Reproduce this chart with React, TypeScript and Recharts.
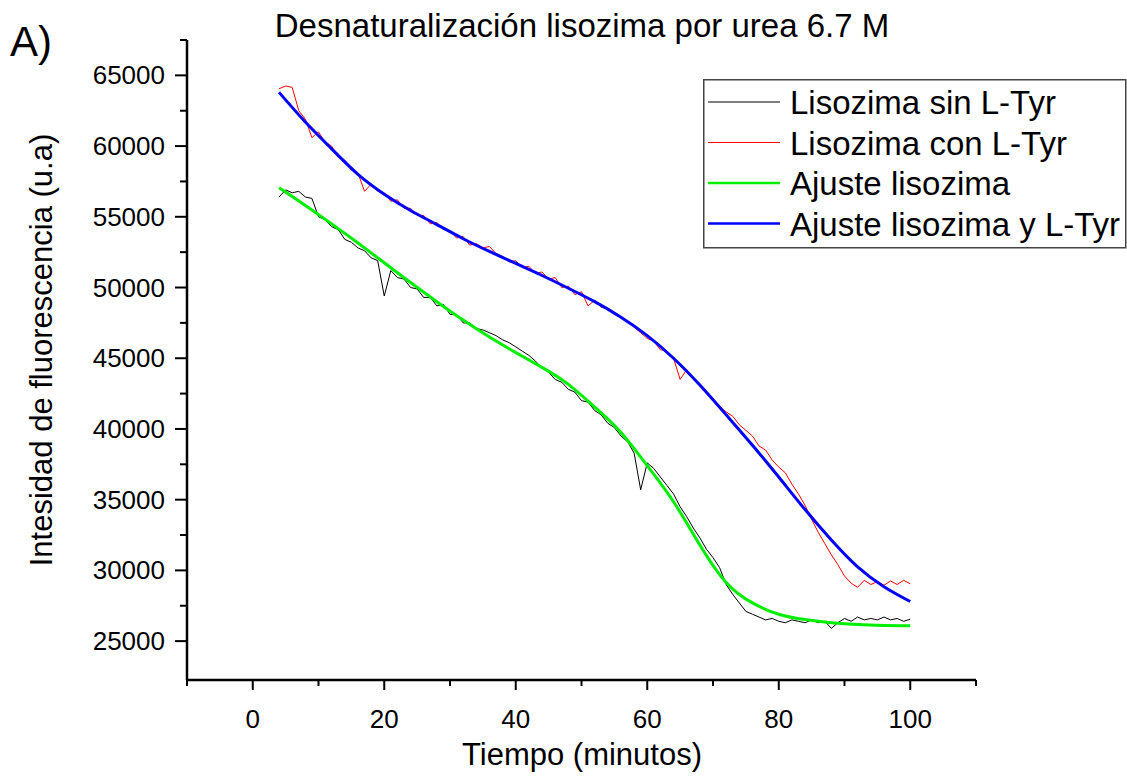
import React from "react";
import { LineChart, Line, XAxis, YAxis, Legend } from "recharts";

const FONT = '"Liberation Sans", Arial, sans-serif';

// tiempo de medida (minutos)
const tiempo = [
  4, 5, 6, 7, 8, 9, 10, 11, 12, 13,
  14, 15, 16, 17, 18, 19, 20, 21, 22, 23,
  24, 25, 26, 27, 28, 29, 30, 31, 32, 33,
  34, 35, 36, 37, 38, 39, 40, 41, 42, 43,
  44, 45, 46, 47, 48, 49, 50, 51, 52, 53,
  54, 55, 56, 57, 58, 59, 60, 61, 62, 63,
  64, 65, 66, 67, 68, 69, 70, 71, 72, 73,
  74, 75, 76, 77, 78, 79, 80, 81, 82, 83,
  84, 85, 86, 87, 88, 89, 90, 91, 92, 93,
  94, 95, 96, 97, 98, 99, 100,
];

// Lisozima sin L-Tyr (negro)
const sinTyr = [
  56400, 56900, 56700, 56800, 56400, 56300, 55000, 54800, 54300, 54100,
  53400, 53200, 52800, 52600, 52100, 51900, 49400, 51200, 50700, 50600,
  50000, 49900, 49300, 49300, 48700, 48800, 48100, 48100, 47500, 47500,
  47100, 47000, 46800, 46600, 46300, 46100, 45800, 45500, 45200, 44800,
  44300, 44000, 43500, 43300, 42800, 42600, 42000, 41900, 41300, 41000,
  40400, 40100, 39500, 39100, 38300, 35700, 37600, 37200, 36600, 36000,
  35400, 34500, 33800, 33000, 32300, 31500, 30900, 30200, 29000, 28300,
  27700, 27100, 26900, 26700, 26500, 26600, 26400, 26300, 26500, 26400,
  26300, 26500, 26300, 26400, 25900, 26300, 26600, 26400, 26700, 26500,
  26600, 26500, 26700, 26500, 26600, 26400, 26550,
];

// Lisozima con L-Tyr (rojo)
const conTyr = [
  64050, 64250, 64150, 62500, 61900, 60600, 61000, 60300, 60000, 59200,
  59000, 58300, 58100, 56800, 57300, 56800, 56700, 56100, 56200, 55600,
  55600, 55100, 55100, 54500, 54600, 54100, 54000, 53500, 53600, 53000,
  53100, 52800, 52900, 52400, 52200, 51800, 51900, 51400, 51500, 51000,
  51100, 50600, 50700, 50000, 50100, 49500, 49700, 48700, 49100, 48600,
  48500, 48100, 47900, 47600, 47200, 46800, 46400, 46200, 45600, 45500,
  45000, 43500, 44200, 43600, 43100, 42500, 42000, 41600, 41200, 40900,
  40300, 39900, 39500, 38800, 38500, 37800, 37300, 36900, 36100, 35400,
  34600, 33600, 32700, 31900, 31100, 30400, 29600, 29100, 28800, 29300,
  29000, 29200, 28950, 29250, 29000, 29300, 29050,
];

// curvas de ajuste
const tiempoAjuste = [4, 8, 12, 16, 20, 24, 28, 32, 36, 40, 44, 48, 52, 56, 60, 64, 68, 72, 76, 80, 84, 88, 92, 96, 100];
const ajusteLisozima = [
  57050, 55800, 54500, 53150, 51750, 50350, 49000, 47700, 46500, 45400,
  44350, 43150, 41550, 39750, 37400, 34850, 31800, 29150, 27700, 26900,
  26520, 26300, 26170, 26110, 26080,
];
const ajusteTyr = [
  63800, 61700, 59800, 58000, 56600, 55450, 54450, 53450, 52550, 51700,
  50850, 49950, 49000, 47900, 46600, 45000, 43100, 41000, 38850, 36600,
  34300, 32150, 30250, 28850, 27800,
];

const xTicks = [-10, 0, 10, 20, 30, 40, 50, 60, 70, 80, 90, 100, 110];
const yTicks = [25000, 27500, 30000, 32500, 35000, 37500, 40000, 42500, 45000, 47500, 50000, 52500, 55000, 57500, 60000, 62500, 65000, 67500];

const series = [
  { name: "Lisozima sin L-Tyr", color: "#000000", width: 1 },
  { name: "Lisozima con L-Tyr", color: "#ff0000", width: 1 },
  { name: "Ajuste lisozima", color: "#00ee00", width: 3 },
  { name: "Ajuste lisozima y L-Tyr", color: "#0000ff", width: 3 },
];

const medidas = tiempo.map((t, i) => ({ t, sin: sinTyr[i], con: conTyr[i] }));
const ajustes = tiempoAjuste.map((t, i) => ({ t, lis: ajusteLisozima[i], tyr: ajusteTyr[i] }));

const XTick = ({ x, y, payload }: any) => {
  const major = payload.value % 20 === 0;
  return (
    <g>
      <line x1={x} x2={x} y1={y} y2={y + (major ? 10 : 6)} stroke="#000" strokeWidth={2} />
      {major && (
        <text x={x} y={y + 48} textAnchor="middle" fontSize={26} fontFamily={FONT} fill="#000">
          {payload.value}
        </text>
      )}
    </g>
  );
};

const YTick = ({ x, y, payload }: any) => {
  const major = payload.value % 5000 === 0;
  return (
    <g>
      <line x1={x - (major ? 12 : 7)} x2={x} y1={y} y2={y} stroke="#000" strokeWidth={2} />
      {major && (
        <text x={x - 22} y={y + 9} textAnchor="end" fontSize={26} fontFamily={FONT} fill="#000">
          {payload.value}
        </text>
      )}
    </g>
  );
};

const LegendBox = () => (
  <svg width={424} height={170} style={{ display: "block" }}>
    <rect x={0.75} y={0.75} width={422} height={168} fill="#fff" stroke="#444" strokeWidth={1.5} />
    {series.map((s, i) => {
      const cy = 23 + i * 40.5;
      return (
        <g key={s.name}>
          <line x1={5} x2={77} y1={cy} y2={cy} stroke={s.color} strokeWidth={s.width === 1 ? 1.2 : 2.5} />
          <text x={87} y={cy + 12} fontSize={33} fontFamily={FONT} fill="#000">
            {s.name}
          </text>
        </g>
      );
    })}
  </svg>
);

export default function App() {
  return (
    <div style={{ position: "relative", width: 1127, height: 776, background: "#fff" }}>
      <style>{"body{margin:0}"}</style>
      <LineChart width={1127} height={776} margin={{ top: 40, right: 151, left: 0, bottom: 0 }}>
        <XAxis
          type="number"
          dataKey="t"
          domain={[-10, 110]}
          ticks={xTicks}
          interval={0}
          height={96}
          tickSize={0}
          tickMargin={0}
          tick={<XTick />}
          axisLine={{ stroke: "#000", strokeWidth: 2.5 }}
          allowDataOverflow
        />
        <YAxis
          type="number"
          domain={[22250, 67500]}
          ticks={yTicks}
          interval={0}
          width={187}
          tickSize={0}
          tickMargin={0}
          tick={<YTick />}
          axisLine={{ stroke: "#000", strokeWidth: 2.5 }}
          allowDataOverflow
        />
        <Line data={medidas} dataKey="sin" name={series[0].name} type="linear" stroke={series[0].color} strokeWidth={1} dot={false} isAnimationActive={false} />
        <Line data={medidas} dataKey="con" name={series[1].name} type="linear" stroke={series[1].color} strokeWidth={1} dot={false} isAnimationActive={false} />
        <Line data={ajustes} dataKey="lis" name={series[2].name} type="natural" stroke={series[2].color} strokeWidth={3} dot={false} isAnimationActive={false} />
        <Line data={ajustes} dataKey="tyr" name={series[3].name} type="natural" stroke={series[3].color} strokeWidth={3} dot={false} isAnimationActive={false} />
        <Legend
          layout="horizontal"
          align="center"
          verticalAlign="middle"
          content={<LegendBox />}
          wrapperStyle={{ position: "absolute", left: 703, top: 79, width: 424, height: 170 }}
        />
      </LineChart>
      <svg width={1127} height={776} style={{ position: "absolute", left: 0, top: 0, pointerEvents: "none" }}>
        <text x={10} y={56} fontSize={42} fontFamily={FONT} fill="#000">A)</text>
        <text x={582} y={37} textAnchor="middle" fontSize={33} fontFamily={FONT} fill="#000">
          Desnaturalización lisozima por urea 6.7 M
        </text>
        <text x={582} y={765} textAnchor="middle" fontSize={31} fontFamily={FONT} fill="#000">
          Tiempo (minutos)
        </text>
        <text transform="translate(52,350) rotate(-90)" textAnchor="middle" fontSize={31} fontFamily={FONT} fill="#000">
          Intesidad de fluorescencia (u.a)
        </text>
      </svg>
    </div>
  );
}
